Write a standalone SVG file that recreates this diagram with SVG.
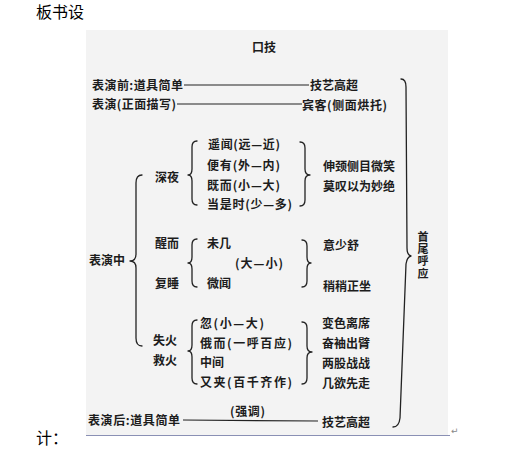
<svg xmlns="http://www.w3.org/2000/svg" width="517" height="454" viewBox="0 0 517 454">
<style>
.t{font-family:"Noto Sans CJK SC","Noto Sans",sans-serif;font-size:12px;font-weight:700;fill:#1c1c1c}
.v{font-family:"Noto Sans CJK SC","Noto Sans",sans-serif;font-size:11px;font-weight:700;fill:#1c1c1c;writing-mode:vertical-rl;letter-spacing:1.3px}
.h{font-family:"Noto Sans CJK SC","Noto Sans",sans-serif;font-size:16px;font-weight:400;fill:#000}
.ln{stroke:#222;stroke-width:1.2;fill:none}
.br{stroke:#222;stroke-width:1.3;fill:none;stroke-linecap:round;stroke-linejoin:round}
</style>
<rect width="517" height="454" fill="#fff"/>
<g id="heading">
<text class="h" x="36" y="18">板书设</text>
<text class="h" x="36" y="444">计：</text>
</g>
<g id="scan">
<rect x="86" y="30" width="362" height="405" fill="#f3f3f3"/>
<line x1="86" y1="435.5" x2="450" y2="435.5" stroke="#8a90b4" stroke-width="1"/>
<text x="451" y="434" font-family="DejaVu Sans,sans-serif" font-size="9" fill="#888">↵</text>
</g>
<g id="title"><text class="t" x="252" y="51.5">口技</text></g>
<g id="before">
<text class="t" x="92" y="89.5" textLength="91">表演前:道具简单</text>
<text class="t" x="310" y="90">技艺高超</text>
</g>
<g id="front">
<text class="t" x="92" y="108.5" textLength="84">表演(正面描写)</text>
<text class="t" x="302" y="109.5" textLength="85">宾客(侧面烘托)</text>
</g>
<g id="during"><text class="t" x="89" y="264.5">表演中</text></g>
<g id="night">
<text class="t" x="155" y="181.5">深夜</text>
<text class="t" x="208" y="148.5" textLength="72">遥闻(远—近)</text>
<text class="t" x="207" y="169.5" textLength="73">便有(外—内)</text>
<text class="t" x="207" y="189.5" textLength="73">既而(小—大)</text>
<text class="t" x="207" y="208.5" textLength="85">当是时(少—多)</text>
<text class="t" x="323" y="170.5">伸颈侧目微笑</text>
<text class="t" x="323" y="190.5">莫叹以为妙绝</text>
</g>
<g id="wake">
<text class="t" x="155" y="247.5">醒而</text>
<text class="t" x="155" y="287.5">复睡</text>
<text class="t" x="207" y="247.5">未几</text>
<text class="t" x="235" y="267.5" textLength="48">(大—小)</text>
<text class="t" x="207" y="287.5">微闻</text>
<text class="t" x="323" y="249.5">意少舒</text>
<text class="t" x="323" y="290.5">稍稍正坐</text>
</g>
<g id="fire">
<text class="t" x="153" y="344.5">失火</text>
<text class="t" x="153" y="364.5">救火</text>
<text class="t" x="200" y="327.5" textLength="64">忽(小—大)</text>
<text class="t" x="200" y="347.5" textLength="92">俄而(一呼百应)</text>
<text class="t" x="200" y="366.5">中间</text>
<text class="t" x="200" y="386.5" textLength="92">又夹(百千齐作)</text>
<text class="t" x="322" y="327.5">变色离席</text>
<text class="t" x="322" y="347.5">奋袖出臂</text>
<text class="t" x="322" y="367.5">两股战战</text>
<text class="t" x="322" y="387.5">几欲先走</text>
</g>
<g id="after">
<text class="t" x="88" y="424.5" textLength="92">表演后:道具简单</text>
<text class="t" x="230" y="415.5" textLength="35">(强调)</text>
<text class="t" x="322" y="426.5">技艺高超</text>
</g>
<g id="echo">
<text class="v" x="423" y="231">首尾呼应</text>
</g>
<g id="connectors">
<line class="ln" x1="184" y1="85" x2="309" y2="85"/>
<line class="ln" x1="177" y1="104" x2="302" y2="104"/>
<line class="ln" x1="183" y1="420" x2="318" y2="421"/>
<path class="br" d="M197,141 Q192,141 192,147 L192,169 Q192,175 188,175 Q192,175 192,181 L192,199 Q192,205 197,205"/>
<path class="br" d="M300,142 Q305,142 305,148 L305,169 Q305,175 310,175 Q305,175 305,181 L305,200 Q305,206 300,206"/>
<path class="br" d="M197,239 Q192,239 192,245 L192,257 Q192,263 188,263 Q192,263 192,269 L192,281 Q192,287 197,287"/>
<path class="br" d="M302,240 Q307,240 307,246 L307,257 Q307,263 311,263 Q307,263 307,269 L307,281 Q307,287 302,287"/>
<path class="br" d="M197,320 Q192,320 192,326 L192,345 Q192,351 188,351 Q192,351 192,357 L192,378 Q192,384 197,384"/>
<path class="br" d="M302,322 Q307,322 307,328 L307,346 Q307,352 312,352 Q307,352 307,358 L307,378 Q307,384 302,384"/>
<path class="br" d="M142,175 Q136,175 136,183 L136,254 Q136,261 130,261 Q136,261 136,268 L136,338 Q136,346 142,346"/>
<path class="br" d="M401,79 Q406,79 406,87 L407,248 Q407,255 411,256 Q407,257 406,264 L400,418 Q399,427 393,427"/>
</g>
</svg>
